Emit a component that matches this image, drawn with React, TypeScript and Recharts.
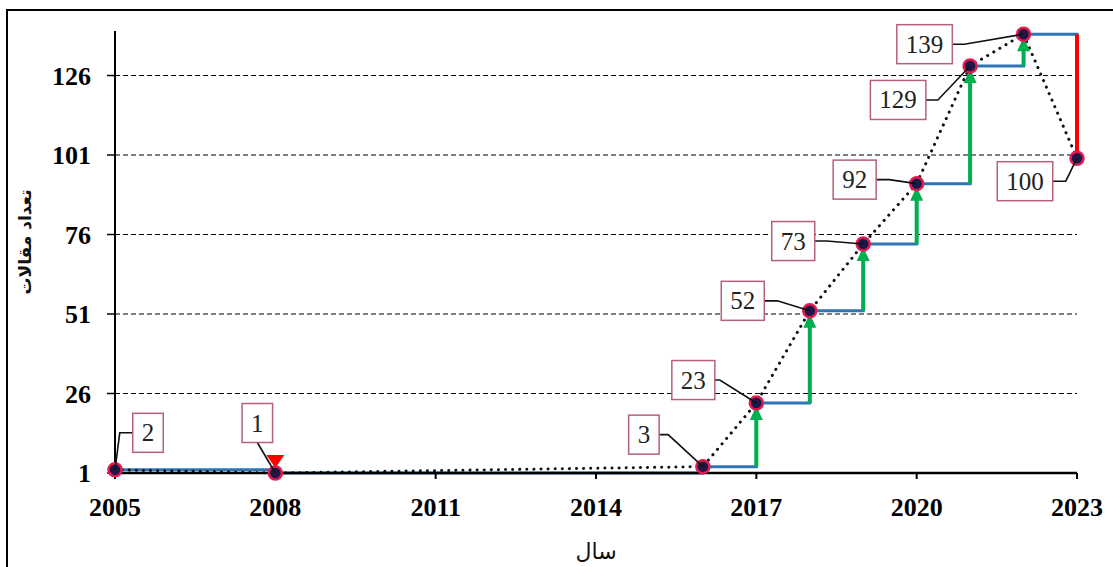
import { LineChart, Line, XAxis, YAxis, CartesianGrid, LabelList } from 'recharts';

const years = [2005, 2008, 2016, 2017, 2018, 2019, 2020, 2021, 2022, 2023];
const counts = [2, 1, 3, 23, 52, 73, 92, 129, 139, 100];
const xTicks = [2005, 2008, 2011, 2014, 2017, 2020, 2023];
const yTicks = [1, 26, 51, 76, 101, 126];
const gridValues = [26, 51, 76, 101, 126];
const xTitle = 'سال';
const yTitle = 'تعداد مقالات';

// where each value box sits relative to its point: [dx, dy, leader side, elbow length]
const labelPlace: [number, number, string, number][] = [
  [33, -37, 'left', 13],
  [-18, -50, 'bottom', 0],
  [-59, -32, 'right', 9],
  [-63, -23, 'right', 5],
  [-67, -10, 'right', 13],
  [-70, -3, 'right', 12],
  [-62, -4, 'right', 13],
  [-72, 34, 'right', 12],
  [-99, 10, 'right', 12],
  [-52, 23, 'right', 13],
];

const rows = years.map((year, i) => ({ year, count: counts[i] }));

const risers = years.slice(1).map((year, i) => {
  const diff = counts[i + 1] - counts[i];
  return {
    year,
    up: diff > 0,
    // heads only show where the original shows them
    head: diff > 0 ? diff >= 5 : -diff < 5,
    data: [
      { year, count: counts[i] },
      { year, count: counts[i + 1] },
    ],
  };
});

const BLUE = '#2e75b6';
const GREEN = '#00b050';
const RED = '#ff0000';
const serif = '"Liberation Serif", "Times New Roman", serif';

function arrowDot(up: boolean, head: boolean, color: string) {
  return (props: any) => {
    const { cx, cy, index } = props;
    if (index !== 1 || !head) return <g key={`n-${index}`} />;
    const pts = up
      ? `${cx},${cy + 3} ${cx - 6.5},${cy + 17} ${cx + 6.5},${cy + 17}`
      : `${cx},${cy - 5} ${cx - 9},${cy - 18} ${cx + 9},${cy - 18}`;
    return <polygon key={`a-${index}`} points={pts} fill={color} />;
  };
}

function marker(props: any) {
  const { cx, cy, index } = props;
  return (
    <circle key={`m-${index}`} cx={cx} cy={cy} r={6.5} fill="#1d1748" stroke="#e3194f" strokeWidth={2.5} />
  );
}

function valueBox(props: any) {
  const { x, y, value, index } = props;
  const [dx, dy, side, elbow] = labelPlace[index];
  const w = String(value).length * 12.5 + 18;
  const h = 39;
  const bx = x + dx;
  const by = y + dy;
  let path = '';
  if (side === 'right') {
    const sx = bx + w / 2;
    path = `M${sx},${by} L${sx + elbow},${by} L${x},${y}`;
  } else if (side === 'left') {
    const sx = bx - w / 2;
    path = `M${sx},${by} L${sx - elbow},${by} L${x},${y}`;
  } else {
    path = `M${bx},${by + h / 2} L${x},${y}`;
  }
  return (
    <g key={`lb-${index}`}>
      <path d={path} fill="none" stroke="#111" strokeWidth={1.6} />
      <rect x={bx - w / 2} y={by - h / 2} width={w} height={h} fill="#fff" stroke="#b8607a" strokeWidth={1.5} />
      <text x={bx} y={by} textAnchor="middle" dominantBaseline="central" fontFamily={serif} fontSize={25} fill="#222">
        {value}
      </text>
    </g>
  );
}

export default function App() {
  return (
    <div style={{ position: 'absolute', left: 0, top: 0, width: 1113, height: 567, overflow: 'hidden', background: '#fff' }}>
      <div style={{ position: 'absolute', left: 6, top: 9, width: 1200, height: 700, border: '2px solid #000' }} />
      <div style={{ position: 'absolute', left: 0, top: 0 }}>
        <LineChart width={1113} height={567} data={rows} margin={{ top: 31, right: 36, bottom: 0, left: 0 }}>
          <CartesianGrid
            vertical={false}
            horizontalValues={gridValues}
            stroke="#000"
            strokeDasharray="5 3"
            strokeWidth={1}
          />
          <XAxis
            type="number"
            dataKey="year"
            domain={[2005, 2023]}
            ticks={xTicks}
            interval={0}
            height={94}
            tickSize={6}
            tickMargin={19}
            axisLine={{ stroke: '#000', strokeWidth: 2.5 }}
            tickLine={{ stroke: '#000', strokeWidth: 2 }}
            tick={{ fill: '#000', fontSize: 26, fontWeight: 'bold', fontFamily: serif }}
            label={({ viewBox }: any) => (
              <text
                x={viewBox.x + viewBox.width / 2}
                y={viewBox.y + 86}
                textAnchor="middle"
                fontFamily='"DejaVu Sans", sans-serif'
                fontSize={22}
                fill="#111"
              >
                {xTitle}
              </text>
            )}
          />
          <YAxis
            type="number"
            domain={[1, 140]}
            ticks={yTicks}
            interval={0}
            width={115}
            tickSize={8}
            tickMargin={16}
            axisLine={{ stroke: '#000', strokeWidth: 2 }}
            tickLine={{ stroke: '#000', strokeWidth: 1.5 }}
            tick={{ fill: '#000', fontSize: 26, fontWeight: 'bold', fontFamily: serif }}
            label={({ viewBox }: any) => {
              const cx = 25;
              const cy = viewBox.y + viewBox.height / 2 - 10;
              return (
                <text
                  x={cx}
                  y={cy}
                  transform={`rotate(-90, ${cx}, ${cy})`}
                  textAnchor="middle"
                  dominantBaseline="central"
                  fontFamily='"DejaVu Sans", sans-serif'
                  fontWeight="bold"
                  fontSize={17}
                  fill="#111"
                >
                  {yTitle}
                </text>
              );
            }}
          />
          <Line
            dataKey="count"
            type="stepAfter"
            stroke={BLUE}
            strokeWidth={3}
            dot={false}
            activeDot={false}
            isAnimationActive={false}
          />
          {risers.map((r) => (
            <Line
              key={`r-${r.year}`}
              data={r.data}
              dataKey="count"
              type="linear"
              stroke={r.up ? GREEN : RED}
              strokeWidth={4}
              dot={arrowDot(r.up, r.head, r.up ? GREEN : RED)}
              activeDot={false}
              isAnimationActive={false}
            />
          ))}
          <Line
            dataKey="count"
            type="linear"
            stroke="#111"
            strokeWidth={3}
            strokeDasharray="0.1 7"
            strokeLinecap="round"
            dot={marker}
            activeDot={false}
            isAnimationActive={false}
          >
            <LabelList dataKey="count" content={valueBox} />
          </Line>
        </LineChart>
      </div>
    </div>
  );
}
